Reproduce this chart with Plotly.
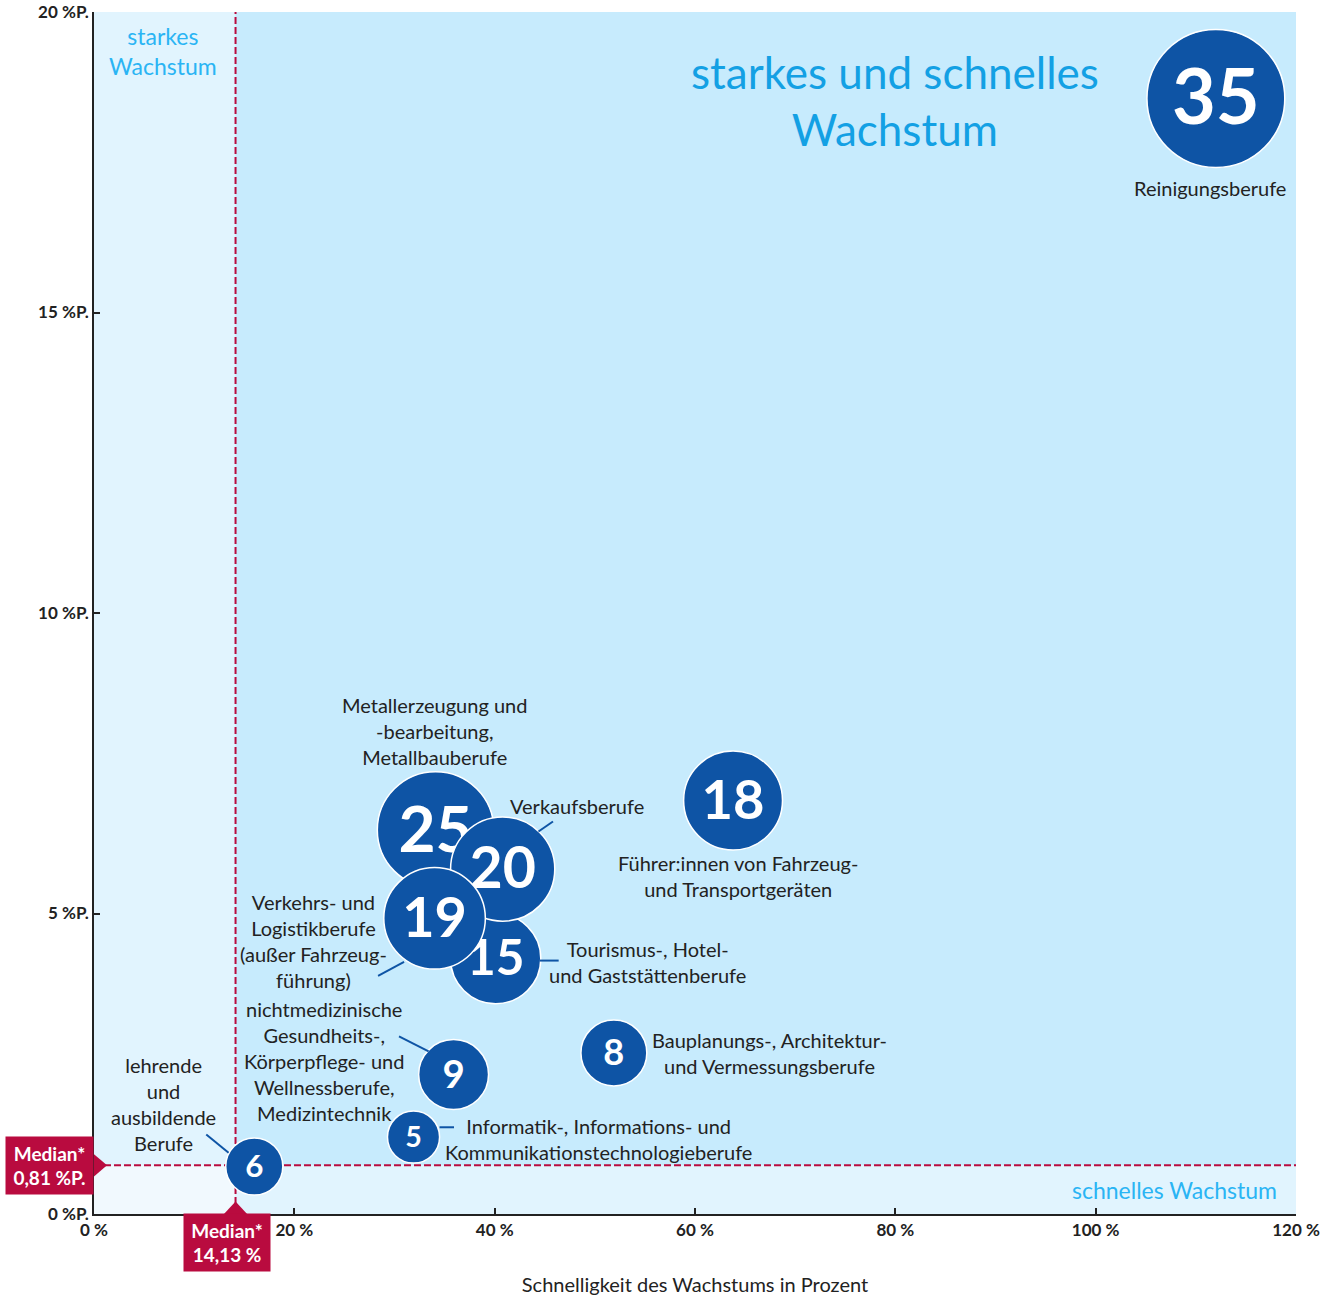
import plotly.graph_objects as go
import math

# ---------------- data ----------------
numbers = [35, 18, 8, 9, 5, 6, 25, 15, 20, 19]
speed = [112.0, 63.8, 51.9, 35.9, 31.9, 16.0, 34.1, 40.1, 40.8, 34.0]          # Schnelligkeit in %
strength = [18.56, 6.88, 2.68, 2.32, 1.28, 0.79, 6.39, 4.25, 5.74, 4.92]       # Stärke in %P.
labels = [
    "Reinigungsberufe",
    "Führer:innen von Fahrzeug-<br>und Transportgeräten",
    "Bauplanungs-, Architektur-<br>und Vermessungsberufe",
    "nichtmedizinische<br>Gesundheits-,<br>Körperpflege- und<br>Wellnessberufe,<br>Medizintechnik",
    "Informatik-, Informations- und<br>Kommunikationstechnologieberufe",
    "lehrende<br>und<br>ausbildende<br>Berufe",
    "Metallerzeugung und<br>-bearbeitung,<br>Metallbauberufe",
    "Tourismus-, Hotel-<br>und Gaststättenberufe",
    "Verkaufsberufe",
    "Verkehrs- und<br>Logistikberufe<br>(außer Fahrzeug-<br>führung)",
]
median_x = 14.13
median_y = 0.81
median_x_text = "Median*<br>14,13 %"
median_y_text = "Median*<br>0,81 %P."
x_ticks = [0, 20, 40, 60, 80, 100, 120]
x_ticktext = ["0 %", "20 %", "40 %", "60 %", "80 %", "100 %", "120 %"]
y_ticks = [0, 5, 10, 15, 20]
y_ticktext = ["0 %P.", "5 %P.", "10 %P.", "15 %P.", "20 %P."]
x_title = "Schnelligkeit des Wachstums in Prozent"
quad_main = "starkes und schnelles<br>Wachstum"
quad_left = "starkes<br>Wachstum"
quad_bottom = "schnelles Wachstum"

# ---------------- layout / style ----------------
label_dx = [-6, 5, 156, -130, 185, -91, -1.5, 152, 74.5, -121.5]
label_dy = [-89, -75, 0, 14, -1.5, 63, 99, -3, 63, -22.5]
leaders = {
    8: (35.8, 37.5, 50.3, 47.5),
    9: (-30.5, -43.5, -56.5, -57.5),
    7: (44, -2, 63, -2),
    3: (-25, 23.3, -54.6, 38.3),
    4: (26, 9.8, 40.5, 9.8),
    5: (-25.7, 13.7, -48, 32),
}
BLUE = "#0e54a5"
RED = "#b90b3f"
TXT = "#222222"
BG_MAIN = "#c7ebfd"
BG_STRIP = "#e1f4fe"
BG_CORNER = "#f1f9fe"
FONT = "Lato"
LABEL_SIZE = 20
DIAM_K = 23.3  # px diameter per sqrt(value)
sizeref = 2.0 / DIAM_K ** 2
PLOT_H = 1202
Y_RANGE = 20
px_per_unit = PLOT_H / Y_RANGE

fig = go.Figure()
for i, n in enumerate(numbers):
    fs = 12.8 * math.sqrt(n)
    fig.add_trace(go.Scatter(
        x=[speed[i]], y=[strength[i]],
        mode="markers",
        marker=dict(size=[n], sizemode="area", sizeref=sizeref, color=BLUE,
                    line=dict(color="white", width=1.5), opacity=1),
        cliponaxis=False,
        hoverinfo="skip",
    ))
    # number label, nudged down so the digits sit optically centred
    fig.add_trace(go.Scatter(
        x=[speed[i]], y=[strength[i] - 0.09 * fs / px_per_unit],
        mode="text",
        text=[str(n)],
        textposition="middle center",
        textfont=dict(family=FONT, size=fs, color="white", weight=700),
        cliponaxis=False,
        hoverinfo="skip",
    ))

shapes = [
    dict(type="rect", xref="x", yref="y", x0=0, x1=median_x, y0=median_y, y1=20,
         fillcolor=BG_STRIP, line=dict(width=0), layer="below"),
    dict(type="rect", xref="x", yref="y", x0=median_x, x1=120, y0=0, y1=median_y,
         fillcolor=BG_STRIP, line=dict(width=0), layer="below"),
    dict(type="rect", xref="x", yref="y", x0=0, x1=median_x, y0=0, y1=median_y,
         fillcolor=BG_CORNER, line=dict(width=0), layer="below"),
    dict(type="line", xref="x", yref="y", x0=median_x, x1=median_x, y0=0, y1=20,
         line=dict(color=RED, width=2, dash="7px,3px"), layer="below"),
    dict(type="line", xref="x", yref="y", x0=0, x1=120, y0=median_y, y1=median_y,
         line=dict(color=RED, width=2, dash="7px,3px"), layer="below"),
    # median pointers
    dict(type="path", xref="x", yref="y", xsizemode="pixel", ysizemode="pixel",
         xanchor=0, yanchor=median_y, path="M -1,12 L 13,0 L -1,-12 Z",
         fillcolor=RED, line=dict(width=0)),
    dict(type="path", xref="x", yref="y", xsizemode="pixel", ysizemode="pixel",
         xanchor=median_x, yanchor=0, path="M -12.5,-1 L 0,12.5 L 12.5,-1 Z",
         fillcolor=RED, line=dict(width=0)),
]
for i, (a, b, c, d) in leaders.items():
    shapes.append(dict(type="line", xref="x", yref="y", xsizemode="pixel", ysizemode="pixel",
                       xanchor=speed[i], yanchor=strength[i], x0=a, y0=b, x1=c, y1=d,
                       line=dict(color=BLUE, width=2)))

annotations = []
for i, lab in enumerate(labels):
    annotations.append(dict(x=speed[i], y=strength[i], xref="x", yref="y", text=lab,
                            showarrow=False, xanchor="center", yanchor="middle",
                            xshift=label_dx[i], yshift=label_dy[i], align="center",
                            font=dict(family=FONT, size=LABEL_SIZE, color=TXT)))
annotations += [
    dict(x=0, y=median_y, xref="x", yref="y", text=median_y_text, showarrow=False,
         xanchor="right", yanchor="middle", bgcolor=RED, borderpad=4, width=79, height=49,
         align="center", font=dict(family=FONT, size=19, color="white", weight=700)),
    dict(x=median_x, y=0, xref="x", yref="y", text=median_x_text, showarrow=False,
         xanchor="center", yanchor="top", xshift=-9, yshift=1, bgcolor=RED, borderpad=4,
         width=78, height=49, align="center",
         font=dict(family=FONT, size=19, color="white", weight=700)),
    dict(x=0.666, y=0.926, xref="paper", yref="paper", text=quad_main, showarrow=False,
         xanchor="center", yanchor="middle", align="center",
         font=dict(family=FONT, size=44, color="#13a0e4")),
    dict(x=(163 - 94) / 1202, y=(1214 - 51.5) / 1202, xref="paper", yref="paper", text=quad_left,
         showarrow=False, xanchor="center", yanchor="middle", align="center",
         font=dict(family=FONT, size=23, color="#2ab4f4")),
    dict(x=(1174 - 94) / 1202, y=(1214 - 1190) / 1202, xref="paper", yref="paper", text=quad_bottom,
         showarrow=False, xanchor="center", yanchor="middle", align="center",
         font=dict(family=FONT, size=23, color="#2ab4f4")),
]

fig.update_layout(
    width=1333, height=1296,
    margin=dict(l=94, r=37, t=12, b=82),
    paper_bgcolor="white",
    plot_bgcolor=BG_MAIN,
    showlegend=False,
    hovermode=False,
    shapes=shapes,
    annotations=annotations,
    font=dict(family=FONT, color=TXT),
    xaxis=dict(range=[0, 120], tickvals=x_ticks, ticktext=x_ticktext, showgrid=False,
               zeroline=False, showline=True, linecolor=TXT, linewidth=1.5,
               ticks="inside", ticklen=6, tickwidth=1.5, tickcolor=TXT, automargin=False,
               tickfont=dict(family=FONT, size=17, color=TXT, weight=700),
               title=dict(text=x_title, standoff=40, font=dict(family=FONT, size=20, color=TXT)),
               fixedrange=True),
    yaxis=dict(range=[0, Y_RANGE], tickvals=y_ticks, ticktext=y_ticktext, showgrid=False,
               zeroline=False, showline=True, linecolor=TXT, linewidth=1.5,
               ticks="inside", ticklen=6, tickwidth=1.5, tickcolor=TXT, automargin=False,
               tickfont=dict(family=FONT, size=17, color=TXT, weight=700),
               fixedrange=True),
)

fig.write_html("out.html", config={"displayModeBar": False},
               post_script="document.body.style.margin='0';")
